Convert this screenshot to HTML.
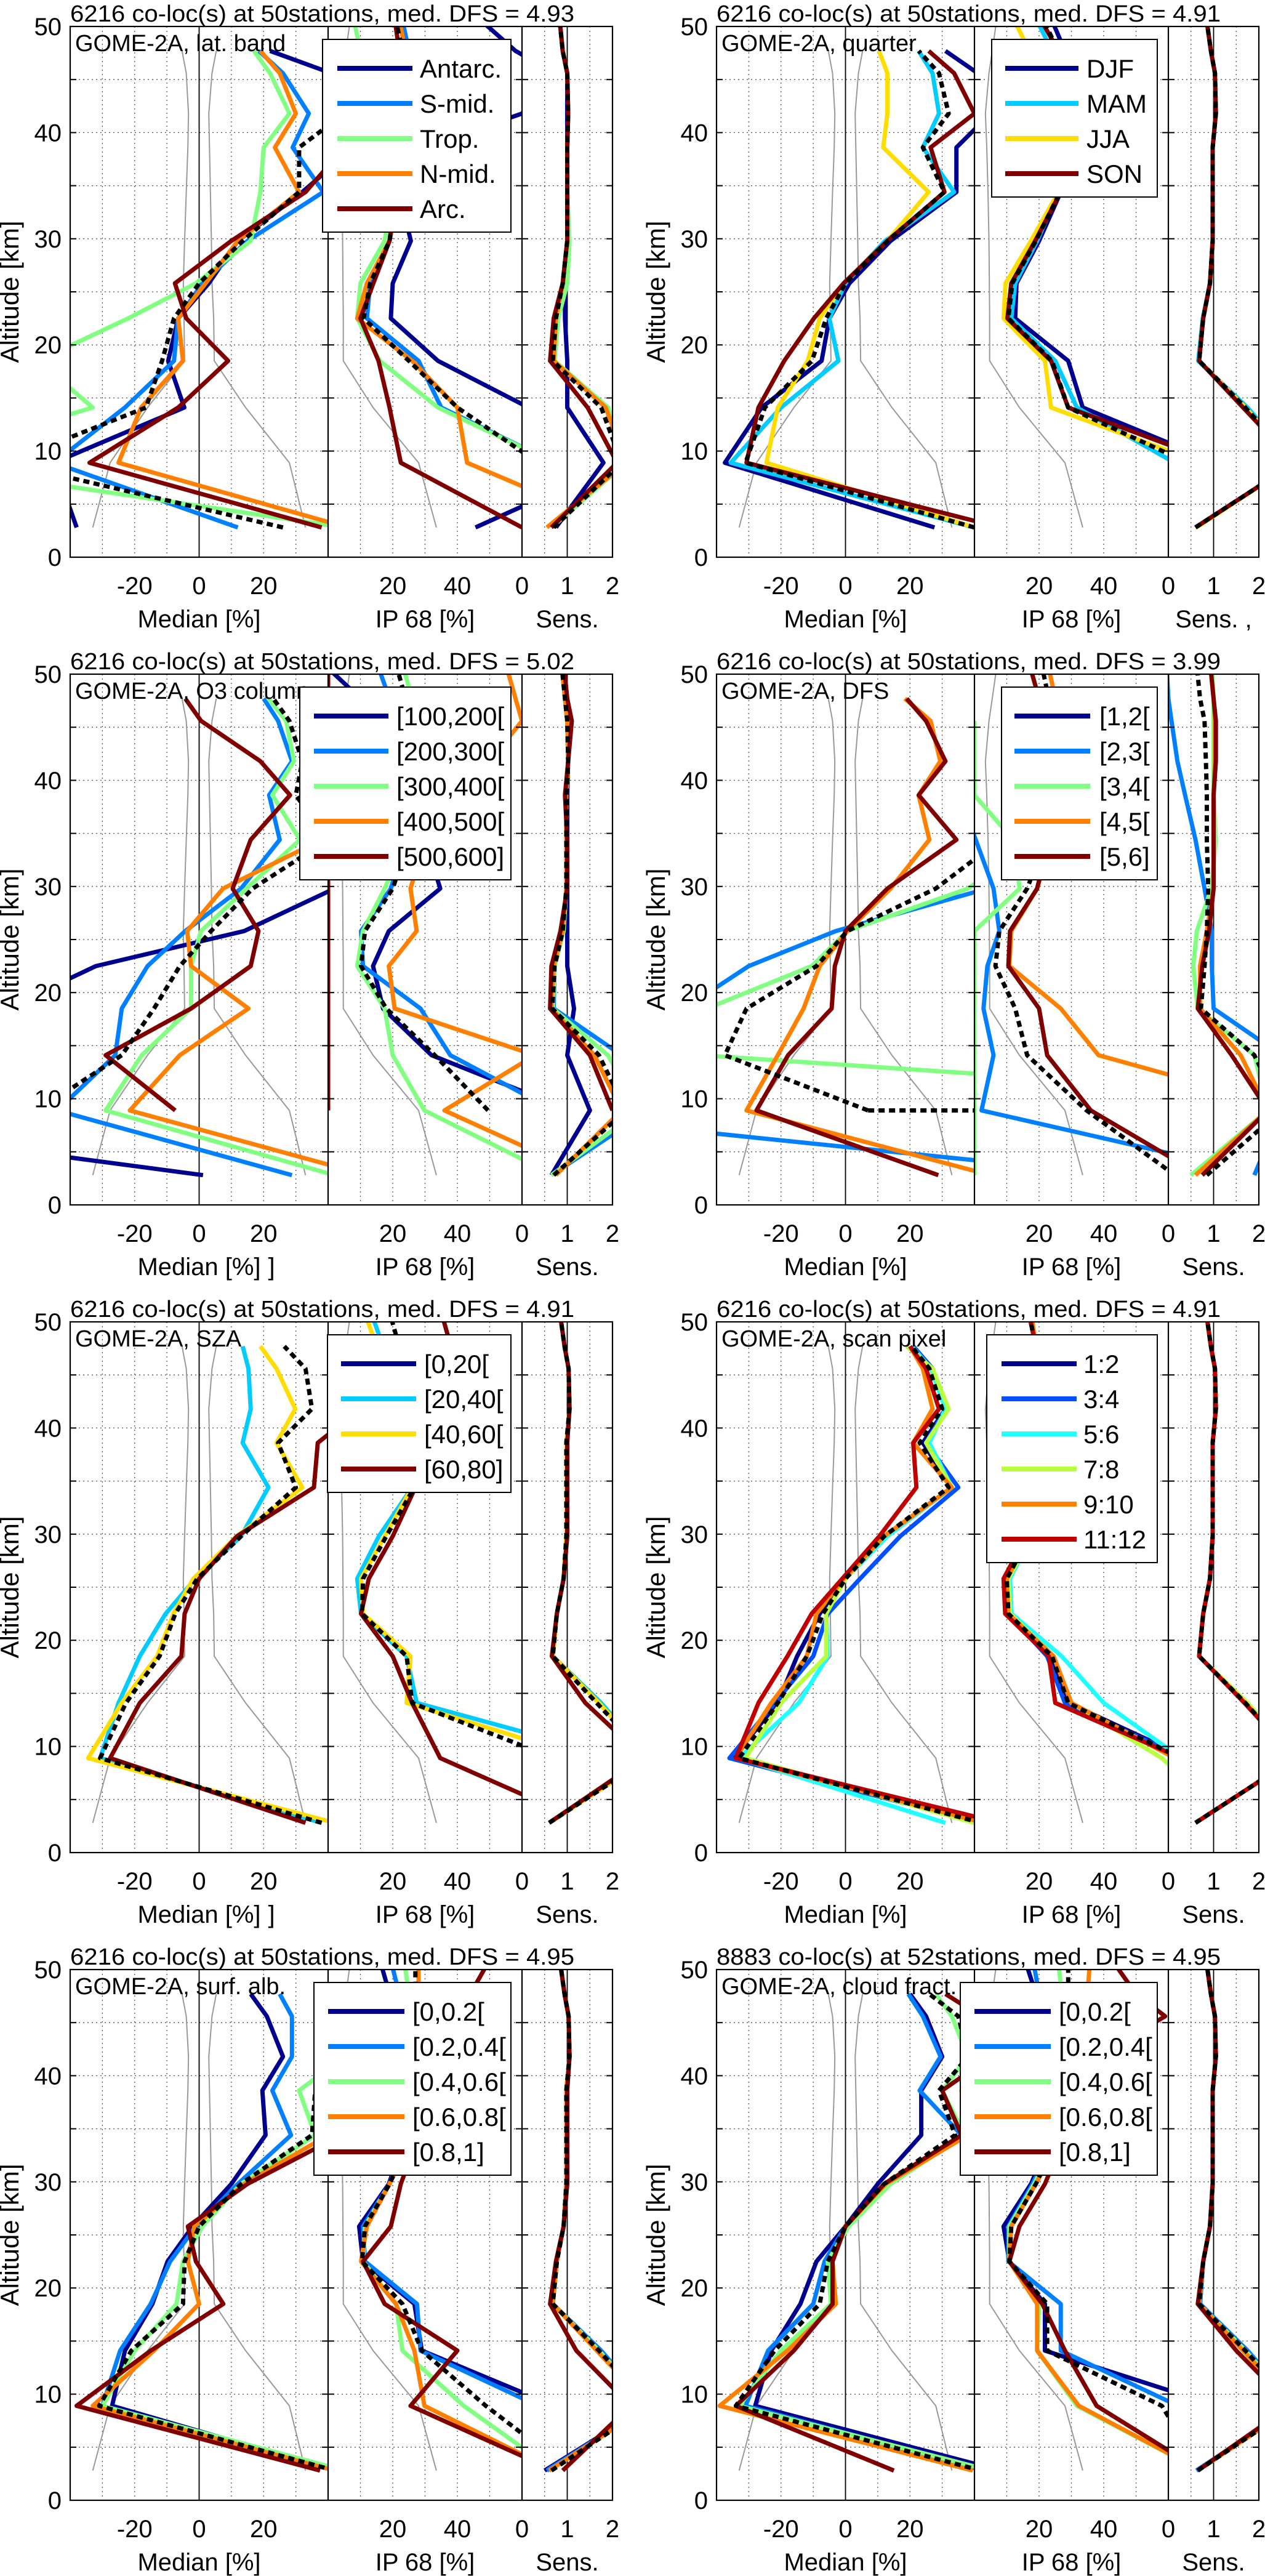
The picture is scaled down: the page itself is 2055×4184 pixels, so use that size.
<!DOCTYPE html>
<html><head><meta charset="utf-8"><title>GOME-2A profile validation</title>
<style>html,body{margin:0;padding:0;background:#fff}svg{display:block;font-family:"Liberation Sans",Arial,sans-serif}</style>
</head><body>
<svg id="fig" xmlns="http://www.w3.org/2000/svg" width="2055" height="4184" viewBox="0 0 2055 4184"></svg>
<script>
const N = null;
const ALT = [2.8,8.9,14.1,18.5,22.5,25.8,29.8,34.4,38.6,41.8,45.6,47.7,52];
const GREY_MED_L = [-33,-27.6,-16,-4.5,-4.7,-4.9,-4.5,-4,-3.5,-3.3,-4,-5.3,N];
const GREY_MED_R = [33,28,14.4,4.7,4.5,4,3.8,3.5,3.2,3,4,5.3,N];
const GREY_IP = [33.5,28,13.9,4.7,4.7,4.6,4.5,4.2,3.8,3.4,4.5,5.5,7.5];
const MED_TICKS = [-20,0,20];
const IP_TICKS = [20,40];
const SENS_TICKS = [0,1,2];
const ALT_TICKS = [0,10,20,30,40,50];

const C5 = ['#00008F','#0080FF','#80FF80','#FF8000','#800000'];
const C4 = ['#00008F','#00CCFF','#FFDD00','#800000'];
const C6 = ['#00008F','#0050FF','#20FFFF','#B8FF40','#FF8000','#C00000'];

/* Panel 1: lat band */
const P1_LABELS = ['Antarc.','S-mid.','Trop.','N-mid.','Arc.'];
const P1_MED = [
 [-38,-45,-4.6,-9.6,-6.5,3,12,32,48,50,41,22,N],
 [12,-45,-23,-7.8,-6.5,1,15,38.5,29,34,26,18.5,N],
 [45,-90,-33,-50,-22,-1,16,19,20,28,22,17,N],
 [46,-25,-18,-5,-6.5,2,12,31,23.5,30,25,19,N],
 [38,-34,-6.5,9,-4,-7.5,10,33,45,55,55,55,N],
 [26,-60,-16.5,-11.5,-7.8,0,13.5,31,31,45,45,45,N]];
const P1_IP = [
 [45.6,90,62,34,19.4,20,25.6,22,30,60,70,58,42],
 [90,70,35,28,12,13,19,22,22,25,28,25,22],
 [90,70,34,16,9,10,17.5,20,20,18,14,10,7],
 [90,43,40,26,9,12,19,22,22,24,25,24,21],
 [60,22.5,19,15.6,10,14,19,21,21,23,24,22,20],
 [70,65,40,25,11,13,19,21,22,24,25,23,20]];
const P1_SENS = [
 [0.75,1.8,1.0,1.0,0.95,0.95,1.0,1.0,1.0,1.0,1.0,0.9,0.8],
 [0.65,2.3,1.9,0.7,0.75,0.9,1.0,1.0,1.0,1.02,1.0,0.9,0.8],
 [0.65,2.3,1.9,0.72,0.8,1.0,1.05,1.0,1.0,1.02,1.0,0.9,0.8],
 [0.55,2.3,1.85,0.7,0.75,0.9,1.0,1.0,1.0,1.02,1.0,0.9,0.8],
 [0.65,2.1,1.45,0.62,0.7,0.9,1.0,1.0,1.0,1.02,1.0,0.9,0.8],
 [0.7,2.2,1.75,0.68,0.75,0.9,1.0,1.0,1.0,1.02,1.0,0.9,0.8]];

/* Panel 2: quarter */
const P2_LABELS = ['DJF','MAM','JJA','SON'];
const P2_MED = [
 [27.6,-37.4,-26,-7.4,-5,1.2,14,34.4,34.4,45,41,31,N],
 [40,-35.6,-20,-2.2,-5,0,12.3,33.7,24,29,27,22.7,N],
 [40,-24.5,-21,-11.7,-8,-0.6,13,25.8,11.7,13,13,10.4,N],
 [48,-30.7,-27,-19,-9.8,-0.6,13,30.7,26.4,40,33.7,25.8,N],
 [40,-31,-25,-10.4,-6,0,13,30.7,24,32,29,22.7,N]];
const P2_IP = [
 [80,75,33.5,29,12.6,13,20,26.7,28,29,30,28,22],
 [80,62,31.7,25,11.4,12.6,19.4,26,27,28,27,24,17],
 [80,70,23.7,21.8,9,9.6,17.5,26,26,25,22,17,10],
 [80,75,29,23.7,10.2,11.4,18.8,26.7,28,29,29,26,18],
 [80,66,29,24,10.5,11.7,19,26.5,28,29,29,26,19]];
const P2_SENS = [
 [0.6,2.8,1.7,0.68,0.77,0.92,0.98,0.98,0.98,1.05,1.03,0.94,0.8],
 [0.6,2.8,1.75,0.66,0.76,0.92,0.98,0.98,0.98,1.05,1.03,0.94,0.8],
 [0.62,2.8,1.7,0.68,0.77,0.92,0.98,0.98,0.98,1.05,1.03,0.94,0.8],
 [0.6,2.8,1.65,0.68,0.77,0.92,0.98,0.98,0.98,1.05,1.03,0.94,0.8],
 [0.6,2.8,1.7,0.68,0.77,0.92,0.98,0.98,0.98,1.05,1.03,0.94,0.8]];

/* Panel 3: O3 column */
const P3_LABELS = ['[100,200[','[200,300[','[300,400[','[400,500[','[500,600]'];
const P3_MED = [
 [1.2,-150,-42,-60,-32,14,42,70,70,70,70,70,N],
 [28.8,-44,-26,-24,-16,-4.3,13,25,21.7,28.8,24.5,20,N],
 [42,-29,-17.8,-2.5,-2.5,0.6,14.7,31.3,22.7,29.4,27,21.5,N],
 [52,-21.5,-6,15.3,-2.5,-3.7,7.4,38,55,55,55,55,N],
 [N,-7.4,-29,-2.5,16,18.4,10.4,16,28.2,19,0.6,-4.3,N],
 [N,-50,-24,-14,-6,3.7,16.6,40,30,32,28,23,N]];
const P3_IP = [
 [N,75,32,17,13.9,18.8,34.7,30,25,20,15,10,-5],
 [N,70,37.8,28.6,10.8,10.2,19.4,24,25,24,22,19,14],
 [70,29.8,20,17.5,9,10.8,17.5,24,26,27,27,26,22],
 [80,36,64,20.6,18.8,27.4,25.5,30,40,50,60,58,54],
 [N,0,0,0,0,0,0,0,0,0,0,0,0],
 [N,49.5,33,18,10.2,11.4,20,25,26,27,26,24,20]];
const P3_SENS = [
 [0.65,1.5,1.0,1.15,1.0,1.0,1.0,1.0,1.0,1.02,1.0,0.95,0.85],
 [0.65,2.8,2.2,0.7,0.72,0.92,0.98,0.98,0.98,1.02,1.0,0.95,0.85],
 [0.65,2.6,1.9,0.68,0.72,0.92,0.98,0.98,0.98,1.02,1.0,0.95,0.85],
 [0.75,2.2,1.6,0.65,0.7,0.9,0.98,0.98,0.98,1.02,1.0,0.95,0.85],
 [N,2.0,1.5,0.62,0.65,0.85,1.0,1.0,0.95,1.02,1.1,1.0,0.9],
 [0.7,2.3,1.7,0.67,0.72,0.9,0.98,0.98,0.98,1.02,1.0,0.95,0.85]];

/* Panel 4: DFS */
const P4_LABELS = ['[1,2[','[2,3[','[3,4[','[4,5[','[5,6]'];
const P4_MED = [
 [N,N,N,N,N,N,N,N,N,N,N,N,N],
 [85,-110,-80,-50,-30,-3,44,60,60,60,60,60,N],
 [200,210,-45,-43,-10.4,0.6,38,60,60,60,60,60,N],
 [45,-30.7,-21,-13,-8,0.6,14,26,22.7,29.4,26.4,18.4,N],
 [28.8,-27.6,-17.8,-4.3,-3.3,0,13,34.4,22.7,31,25,19,N],
 [N,7,-37.4,-30.7,-9,0.6,28,48,60,60,60,60,N]];
const P4_MED_FLAT = [7,45];
const P4_MED_FLAT_ALT = 8.9;
const P4_IP = [
 [N,N,N,N,N,N,N,N,N,N,N,N,N],
 [90,2.2,5.9,2.8,4,7.7,5.9,0.4,-5,-8,-10,-10,-10],
 [0,0,0,0,0,0,14,12,0,0,0,N,N],
 [N,100,38.4,26.7,10.8,11.4,19.4,24,26,27,27,25,22],
 [70,36,22.5,20,10.5,11,19.4,23,24,24,23,20,16],
 [62,34.7,16.3,12.6,6.5,7.7,16.3,22,24,25,25,23,20]];
const P4_SENS = [
 [N,N,N,N,N,N,N,N,N,N,N,N,N],
 [1.9,2.5,2.5,1.0,0.96,0.96,0.8,0.6,0.37,0.2,0.07,0.0,-0.05],
 [0.5,2.2,1.9,0.65,0.55,0.63,0.95,1.05,1.0,1.0,1.0,1.0,0.95],
 [0.6,2.2,1.6,0.7,0.7,0.85,1.0,1.0,1.0,1.03,1.03,1.0,0.9],
 [0.75,2.2,1.4,0.65,0.75,0.9,1.0,1.0,1.0,1.05,1.05,1.0,0.9],
 [0.85,2.5,1.9,0.72,0.8,0.85,0.88,0.85,0.85,0.83,0.8,0.7,0.6]];

/* Panel 5: SZA */
const P5_LABELS = ['[0,20[','[20,40[','[40,60[','[60,80]'];
const P5_MED = [
 [N,N,N,N,N,N,N,N,N,N,N,N,N],
 [38,-30.7,-25,-18.4,-10.4,-1.2,13,21.5,13.5,16,15.3,13.5,N],
 [42,-34.4,-24,-13,-8,-1.8,11.7,32,24,29.8,24,19,N],
 [33,-27.6,-18.4,-5.5,-4.5,0,11.7,35.6,36.8,50,50,50,N],
 [38,-30.7,-22.7,-12.3,-7.4,-0.6,13,30,24.5,35,33,26.4,N]];
const P5_IP = [
 [N,N,N,N,N,N,N,N,N,N,N,N,N],
 [90,90,27.4,24.3,10.2,9,15.7,26,26,25,22,17,12],
 [90,80,24.3,25.5,10.8,10.2,17.5,26,25,24,21,15,10],
 [80,34.7,26,20,10.2,12.6,20,27,30,32,36,38,34],
 [90,70,26,24.3,10.5,10.8,18,26.7,27,27,26,22,18]];
const P5_SENS = [
 [N,N,N,N,N,N,N,N,N,N,N,N,N],
 [0.6,2.8,1.75,0.68,0.77,0.92,0.98,0.98,0.98,1.05,1.03,0.94,0.8],
 [0.6,2.8,1.7,0.68,0.77,0.92,0.98,0.98,0.98,1.05,1.03,0.94,0.8],
 [0.6,2.7,1.4,0.66,0.77,0.92,1.0,1.0,1.0,1.05,1.03,0.94,0.8],
 [0.6,2.8,1.65,0.68,0.77,0.92,0.98,0.98,0.98,1.05,1.03,0.94,0.8]];

/* Panel 6: scan pixel */
const P6_LABELS = ['1:2','3:4','5:6','7:8','9:10','11:12'];
const P6_MED = [
 [42,-35,-21,-15,-8,0,12,33,24,31,27,21,N],
 [42,-36,-22,-10,-5.5,4.5,17,35,25,31,27,21,N],
 [31,-33,-14.5,-5.5,-6,0,13,33,26,31,26.5,20.5,N],
 [40,-31,-20,-6,-6,0,12,33,25,32,27,19,N],
 [43,-34,-23,-12,-9,-0.5,12,33,21,27,24,20,N],
 [48,-34,-27,-18,-10.5,-1,10.5,22,21,29,25,20,N],
 [42,-33,-21,-12,-7,0,12,32,23,30,26,20.5,N]];
const P6_IP = [
 [80,66,29,23,10.5,10,17,25,25,24,22,19,16],
 [80,65,28,22.5,10.5,10,17,25,25,24,22,19,16],
 [80,64,40,27,11.5,11,17.5,25,25,24,22,19,17],
 [80,58,30,24.5,11,10.5,17.5,25,25,24,22,19,16],
 [80,62,30,24.5,10.5,10,17,25,25,24,22,19,17],
 [80,64,25,23,9.5,9,16,24,25,24,22,19,16],
 [80,64,29,24,10.5,10,17,25,25,24,22,19,16]];
const P6_SENS = [
 [0.6,2.8,1.7,0.68,0.77,0.92,0.98,0.98,0.98,1.05,1.03,0.94,0.8],
 [0.6,2.8,1.7,0.68,0.77,0.92,0.98,0.98,0.98,1.05,1.03,0.94,0.8],
 [0.6,2.8,1.72,0.68,0.77,0.92,0.98,0.98,0.98,1.05,1.03,0.94,0.8],
 [0.6,2.8,1.75,0.68,0.77,0.92,0.98,0.98,0.98,1.05,1.03,0.94,0.8],
 [0.6,2.8,1.7,0.68,0.77,0.92,0.98,0.98,0.98,1.05,1.03,0.94,0.8],
 [0.6,2.8,1.68,0.68,0.77,0.92,0.98,0.98,0.98,1.05,1.03,0.94,0.8],
 [0.6,2.8,1.7,0.68,0.77,0.92,0.98,0.98,0.98,1.05,1.03,0.94,0.8]];

/* Panel 7: surface albedo */
const P7_LABELS = ['[0,0.2[','[0.2,0.4[','[0.4,0.6[','[0.6,0.8[','[0.8,1]'];
const P7_MED = [
 [42,-27,-23,-14.5,-9.8,-2,10,20.6,19.6,26,21,16,N],
 [42,-30,-24.5,-15,-9,-1,12,28.5,22.7,28.8,28.8,25,N],
 [45,-30,-20,-7,-5,1,13,36,31,45,45,38,N],
 [42,-33,-14,0,-3.5,-1.5,14,40,50,50,50,50,N],
 [37.5,-38,-15,7.5,-1,-3.5,15,44,50,50,50,50,N],
 [42,-31,-21,-5,-4.5,0,13,35,36,45,45,45,N]];
const P7_IP = [
 [80,70,29,26.7,10.8,9.6,18.8,24,25,24,22,19,15],
 [80,65,28.6,27.5,11.4,10.8,19,25,26,26,25,22,18.5],
 [70,42,23,21,10.8,11.4,19,26,27,28,27,25,23],
 [70,29.8,26.7,21,10.2,12,19,26,27,28,28,28,28],
 [70,25.5,40,17.5,10.8,19.4,22.5,28,30,33,38,44,52],
 [75,48.8,29,23,10.5,11.4,19,26,27,28,28,27,27]];
const P7_SENS = [
 [0.5,2.8,1.7,0.68,0.77,0.92,0.98,0.98,0.98,1.05,1.03,0.94,0.8],
 [0.55,2.8,1.75,0.68,0.77,0.92,0.98,0.98,0.98,1.05,1.03,0.94,0.8],
 [0.6,2.8,1.7,0.68,0.77,0.92,0.98,0.98,0.98,1.05,1.03,0.94,0.8],
 [0.6,2.8,1.65,0.68,0.77,0.92,0.98,0.98,0.98,1.05,1.03,0.94,0.8],
 [0.9,2.4,1.2,0.62,0.75,0.92,1.0,1.0,1.0,1.05,1.03,0.94,0.8],
 [0.65,2.8,1.7,0.68,0.77,0.92,0.98,0.98,0.98,1.05,1.03,0.94,0.8]];

/* Panel 8: cloud fraction */
const P8_LABELS = ['[0,0.2[','[0.2,0.4[','[0.4,0.6[','[0.6,0.8[','[0.8,1]'];
const P8_MED = [
 [48,-28,-23,-14,-9,0,10,23.5,23.5,30,25,20,N],
 [43,-31,-24,-10,-6.5,0,12,36,23,29.5,24,19.5,N],
 [45,-33,-20,-4.5,-5.5,1,14,37,30,38,33,28,N],
 [39.5,-39,-18,-3,-4,0,12.5,38,36,45,45,45,N],
 [15,-34,-16,-4,-4,0,12,36,30,45,42,31,N],
 [42,-34,-22,-8,-5.5,0,12,34,29,38,35,26,N]];
const P8_IP = [
 [80,75,21.8,21.8,10.8,9,17.5,24,25,24,22,19,14.5],
 [80,63,26.7,26.7,10.5,10.5,18,25,25,25,23,20,17.5],
 [70,31.7,19.4,20,10.8,10.8,18.5,26,27,28,28,27,25.5],
 [70,32.3,19.4,19.4,10.8,11.4,19,27,29,31,33,35,36],
 [70,37.8,28,21,10.8,13.9,21.8,28,32,38,59,50,40],
 [70,58,22.5,22.5,10.8,11.4,19,26,27,28,28,29,29]];
const P8_SENS = [
 [0.62,2.8,1.75,0.7,0.77,0.92,0.98,0.98,0.98,1.05,1.03,0.94,0.8],
 [0.62,2.8,1.75,0.7,0.77,0.92,0.98,0.98,0.98,1.05,1.03,0.94,0.8],
 [0.65,2.8,1.7,0.68,0.77,0.92,0.98,0.98,0.98,1.05,1.03,0.94,0.8],
 [0.65,2.8,1.65,0.68,0.77,0.92,0.98,0.98,0.98,1.05,1.03,0.94,0.8],
 [0.65,2.7,1.5,0.65,0.77,0.92,0.98,0.98,0.98,1.05,1.03,0.94,0.8],
 [0.65,2.8,1.7,0.68,0.77,0.92,0.98,0.98,0.98,1.05,1.03,0.94,0.8]];

const PANELS = [
 {id:'lat-band', r:0,c:0,title:'6216 co-loc(s) at 50stations, med. DFS = 4.93',sub:'GOME-2A, lat. band',labels:P1_LABELS,colors:C5,med:P1_MED,ip:P1_IP,sens:P1_SENS,lg:[524,830,548,670,682]},
 {id:'quarter', r:0,c:1,title:'6216 co-loc(s) at 50stations, med. DFS = 4.91',sub:'GOME-2A, quarter',labels:P2_LABELS,colors:C4,med:P2_MED,ip:P2_IP,sens:P2_SENS,lg:[561,830,583,702,715],sensLabel:'Sens. ,'},
 {id:'o3-column', r:1,c:0,title:'6216 co-loc(s) at 50stations, med. DFS = 5.02',sub:'GOME-2A, O3 column',labels:P3_LABELS,colors:C5,med:P3_MED,ip:P3_IP,sens:P3_SENS,lg:[487,830,510,631,644],stray:true},
 {id:'dfs', r:1,c:1,title:'6216 co-loc(s) at 50stations, med. DFS = 3.99',sub:'GOME-2A, DFS',labels:P4_LABELS,colors:C5,med:P4_MED,ip:P4_IP,sens:P4_SENS,lg:[577,830,598,721,736],flat:true},
 {id:'sza', r:2,c:0,title:'6216 co-loc(s) at 50stations, med. DFS = 4.91',sub:'GOME-2A, SZA',labels:P5_LABELS,colors:C4,med:P5_MED,ip:P5_IP,sens:P5_SENS,lg:[532,830,554,676,689],stray:true},
 {id:'scan-pixel', r:2,c:1,title:'6216 co-loc(s) at 50stations, med. DFS = 4.91',sub:'GOME-2A, scan pixel',labels:P6_LABELS,colors:C6,med:P6_MED,ip:P6_IP,sens:P6_SENS,lg:[553,830,577,699,710]},
 {id:'surf-alb', r:3,c:0,title:'6216 co-loc(s) at 50stations, med. DFS = 4.95',sub:'GOME-2A, surf. alb.',labels:P7_LABELS,colors:C5,med:P7_MED,ip:P7_IP,sens:P7_SENS,lg:[510,830,533,657,670]},
 {id:'cloud-fract', r:3,c:1,title:'8883 co-loc(s) at 52stations, med. DFS = 4.95',sub:'GOME-2A, cloud fract.',labels:P8_LABELS,colors:C5,med:P8_MED,ip:P8_IP,sens:P8_SENS,lg:[510,830,533,657,670]}
];

const NS='http://www.w3.org/2000/svg';
const svg=document.getElementById('fig');
const H=862, PXKM=H/50, WM=419, WI=315, WS=147;
const LW=7;
function el(tag,attrs,parent){const e=document.createElementNS(NS,tag);for(const k in attrs)e.setAttribute(k,attrs[k]);(parent||svg).appendChild(e);return e;}
function txt(s,attrs,parent){const t=el('text',attrs,parent);t.textContent=s;return t;}

PANELS.forEach((P,pi)=>{
  const x0=114+1050*P.c, y0=43+1052*P.r;
  const g=el('g',{});
  
  
  const yS=a=>y0+(50-a)*PXKM;
  const xM=v=>x0+(v+40)*WM/80;
  const xI=v=>x0+WM+v*WI/60;
  const xSn=v=>x0+WM+WI+v*WS/2;
  const subs=[{k:'median',x:x0,w:WM,sc:xM,data:P.med},{k:'ip68',x:x0+WM,w:WI,sc:xI,data:P.ip},{k:'sens',x:x0+WM+WI,w:WS,sc:xSn,data:P.sens}];
  subs.forEach(s=>{
    const cp=el('clipPath',{id:'cp'+pi+s.k},g);
    el('rect',{x:s.x,y:y0,width:s.w,height:H},cp);
  });
  const grid=el('g',{stroke:'#555','stroke-width':1.3,'stroke-dasharray':'2 5',fill:'none'},g);
  
  
  for(let a=5;a<50;a+=5){el('line',{x1:x0,x2:x0+WM+WI+WS,y1:yS(a),y2:yS(a)},grid);}
  [-30,-20,-10,10,20,30].forEach(v=>el('line',{x1:xM(v),x2:xM(v),y1:y0,y2:y0+H},grid));
  [10,20,30,40,50].forEach(v=>el('line',{x1:xI(v),x2:xI(v),y1:y0,y2:y0+H},grid));
  [0.5,1.5].forEach(v=>el('line',{x1:xSn(v),x2:xSn(v),y1:y0,y2:y0+H},grid));
  el('line',{x1:xM(0),x2:xM(0),y1:y0,y2:y0+H,stroke:'#000','stroke-width':1.8},g);
  el('line',{x1:xSn(1),x2:xSn(1),y1:y0,y2:y0+H,stroke:'#000','stroke-width':1.8},g);
  function pathOf(arr,sc,skipTop){
    let d='',pen=false;
    arr.forEach((v,i)=>{
      if(v===null||v===undefined||(skipTop&&i===ALT.length-1)){pen=false;return;}
      d+=(pen?'L':'M')+sc(v).toFixed(1)+','+yS(ALT[i]).toFixed(1);pen=true;
    });
    return d;
  }
  const gm=el('g',{'clip-path':'url(#cp'+pi+'median)',fill:'none',stroke:'#999','stroke-width':2},g);
  const gl=el('path',{d:pathOf(GREY_MED_L,xM)},gm);
  
  
  const gr=el('path',{d:pathOf(GREY_MED_R,xM)},gm);
  
  
  const gi=el('path',{d:pathOf(GREY_IP,xI),fill:'none',stroke:'#999','stroke-width':2,'clip-path':'url(#cp'+pi+'ip68)'},g);
  
  
  subs.forEach(s=>{
    const sg=el('g',{'clip-path':'url(#cp'+pi+s.k+')',fill:'none','stroke-linejoin':'round'},g);
    const n=s.data.length;
    s.data.forEach((arr,si)=>{
      const isMed=si===n-1;
      const p=el('path',{d:pathOf(arr,s.sc,s.k==='median'),stroke:isMed?'#000':P.colors[si],'stroke-width':LW},sg);
      if(isMed)p.setAttribute('stroke-dasharray','10 7');
      
      
    });
    if(P.flat&&s.k==='median'){
      const fp=el('path',{d:'M'+xM(P4_MED_FLAT[0])+','+yS(P4_MED_FLAT_ALT)+'L'+xM(P4_MED_FLAT[1])+','+yS(P4_MED_FLAT_ALT),stroke:'#000','stroke-width':LW,'stroke-dasharray':'10 7'},sg);
      
      
    }
  });
  el('rect',{x:x0,y:y0,width:WM+WI+WS,height:H,fill:'none',stroke:'#000','stroke-width':2.2},g);
  el('line',{x1:x0+WM,x2:x0+WM,y1:y0,y2:y0+H,stroke:'#000','stroke-width':2.2},g);
  el('line',{x1:x0+WM+WI,x2:x0+WM+WI,y1:y0,y2:y0+H,stroke:'#000','stroke-width':2.2},g);
  const tk=el('g',{stroke:'#000','stroke-width':2},g);
  for(let a=0;a<=50;a+=5){
    [x0,x0+WM,x0+WM+WI].forEach(xx=>el('line',{x1:xx,x2:xx+10,y1:yS(a),y2:yS(a)},tk));
    [x0+WM,x0+WM+WI,x0+WM+WI+WS].forEach(xx=>el('line',{x1:xx-10,x2:xx,y1:yS(a),y2:yS(a)},tk));
  }
  ALT_TICKS.forEach(a=>{const t=txt(String(a),{x:x0-14,y:yS(a)+14,'font-size':40,'text-anchor':'end'},g);
    
    });
  const ty=y0+H+60;
  MED_TICKS.forEach(v=>{const t=txt(String(v),{x:xM(v),y:ty,'font-size':40,'text-anchor':'middle'},g);
    
    });
  IP_TICKS.forEach(v=>{const t=txt(String(v),{x:xI(v),y:ty,'font-size':40,'text-anchor':'middle'},g);
    
    });
  SENS_TICKS.forEach(v=>{const t=txt(String(v),{x:xSn(v),y:ty,'font-size':40,'text-anchor':'middle'},g);
    
    });
  const ly=y0+H+114;
  const l1=txt('Median [%]',{x:xM(0),y:ly,'font-size':40,'text-anchor':'middle'},g);
  
  
  if(P.stray){const s=txt(']',{x:xM(0)+112,y:ly,'font-size':40},g);
    
    }
  const l2=txt('IP 68 [%]',{x:xI(30),y:ly,'font-size':40,'text-anchor':'middle'},g);
  
  
  const l3=txt(P.sensLabel||'Sens.',{x:xSn(1),y:ly,'font-size':40,'text-anchor':'middle'},g);
  
  
  const yl=txt('Altitude [km]',{x:0,y:0,'font-size':42,'text-anchor':'middle',transform:'translate('+(x0-84)+','+(y0+H/2)+') rotate(-90)'},g);
  
  
  const tt=txt(P.title,{x:x0,y:y0-8,'font-size':38,textLength:819,lengthAdjust:'spacingAndGlyphs'},g);
  
  
  const st=txt(P.sub,{x:x0+8,y:y0+40,'font-size':38},g);
  
  
  const L=P.lg, n=P.labels.length, top=y0+21;
  const lgG=el('g',{},g);
  
  
  el('rect',{x:x0+L[0]-114,y:top,width:L[1]-L[0],height:47+(n-1)*57+38,fill:'#fff',stroke:'#000','stroke-width':2},lgG);
  P.labels.forEach((lab,i)=>{
    const yy=top+47+i*57;
    const e=el('g',{},lgG);
    
    
    el('line',{x1:x0+L[2]-114,x2:x0+L[3]-114,y1:yy,y2:yy,stroke:P.colors[i],'stroke-width':8},e);
    txt(lab,{x:x0+L[4]-114,y:yy+15,'font-size':42},e);
  });
});
</script>
</body></html>
